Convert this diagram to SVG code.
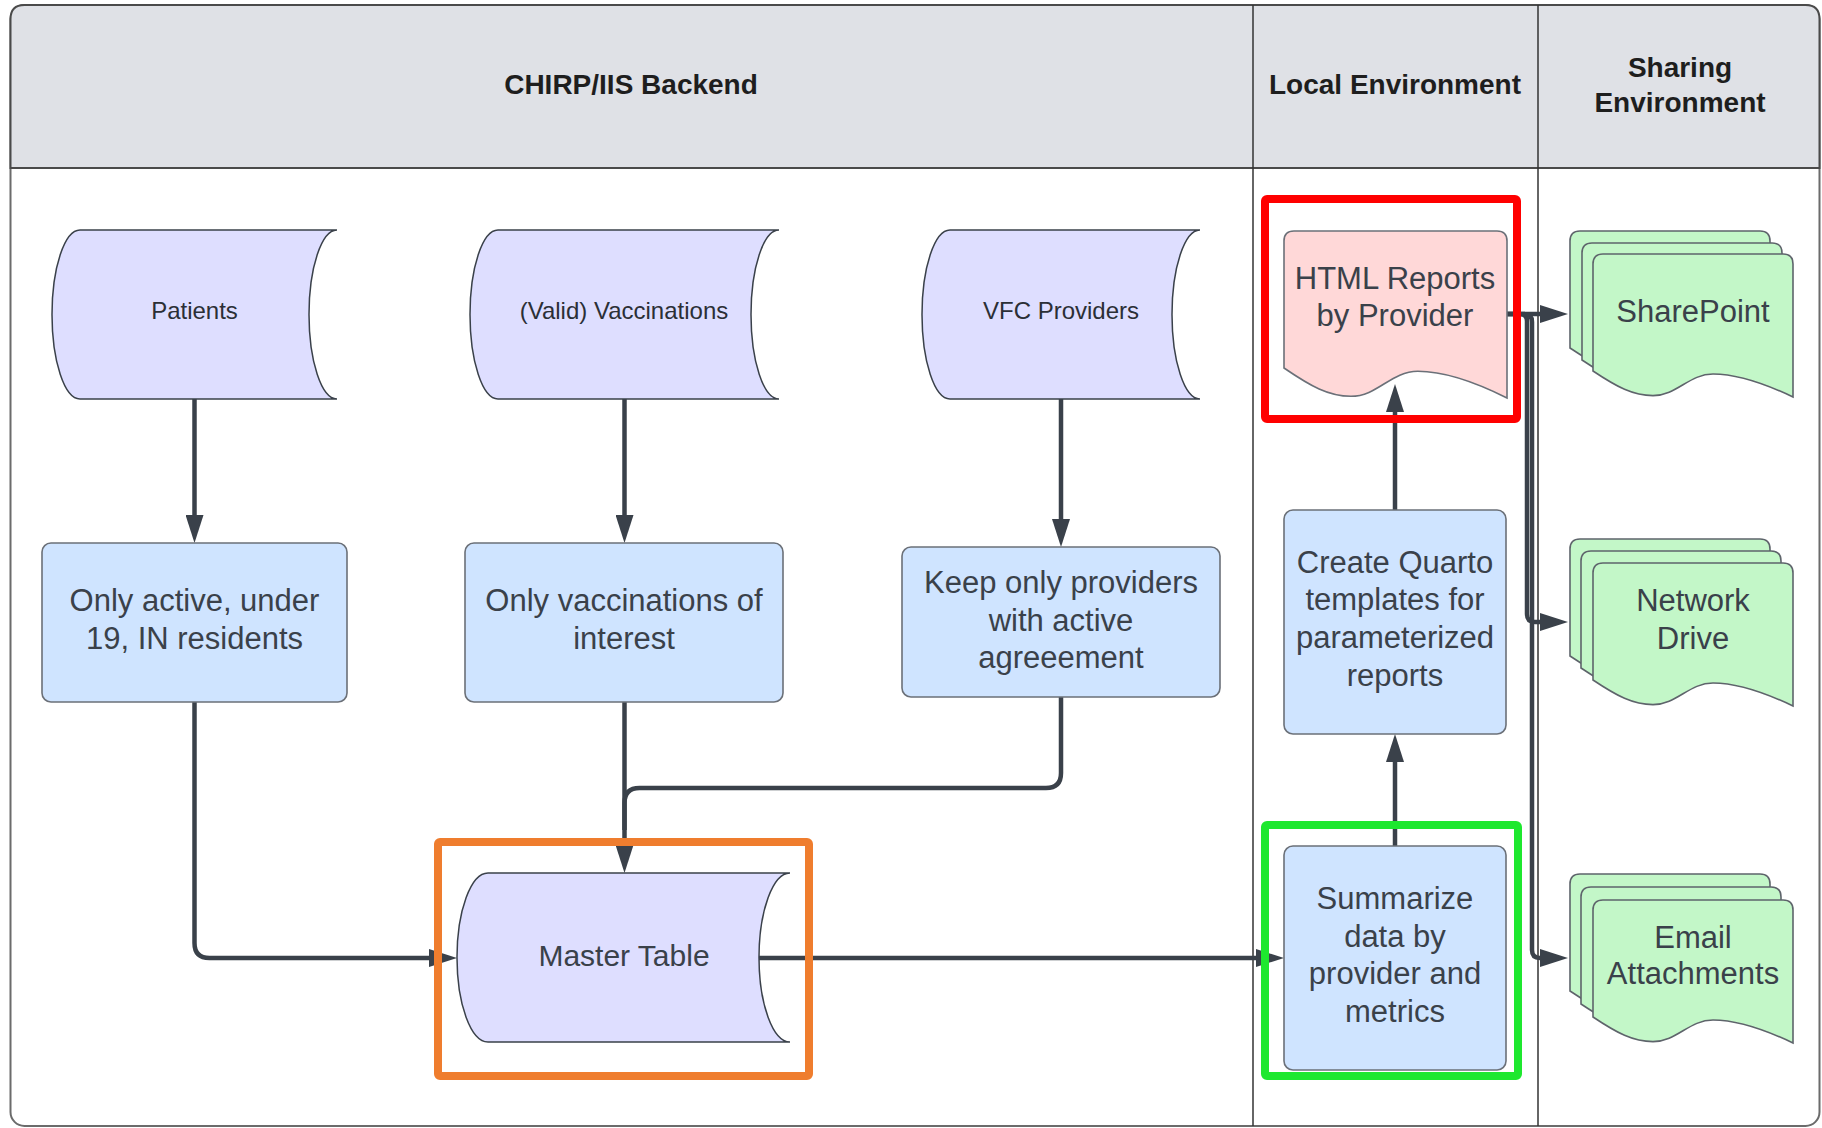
<svg xmlns="http://www.w3.org/2000/svg" xmlns:xlink="http://www.w3.org/1999/xlink" width="1822" height="1128" viewBox="0 0 1822 1128">
  <style>
    .hdr{font-family:"Liberation Sans",Arial,sans-serif;font-weight:bold;font-size:28px;fill:#1e1e1e;text-anchor:middle}
    .lbl{font-family:"Liberation Sans",Arial,sans-serif;font-size:31px;fill:#3a414a;text-anchor:middle}
    .ds{font-family:"Liberation Sans",Arial,sans-serif;font-size:24px;fill:#2b2f36;text-anchor:middle}
    .store{fill:#dedeff;stroke:#3a414a;stroke-width:1.5}
    .proc{fill:#cfe4ff;stroke:#6b7078;stroke-width:1.6}
    .gdoc{fill:#c3f7c8;stroke:#5e646b;stroke-width:1.6}
    .conn{fill:none;stroke:#3a414a;stroke-width:4.5}
    .hl{fill:none;stroke-width:8}
  </style>
  <defs>
    <marker id="ah" viewBox="0 0 28 18" refX="14" refY="9" markerWidth="28" markerHeight="18" markerUnits="userSpaceOnUse" orient="auto">
      <path d="M0,0 L28,9 L0,18 Z" fill="#3a414a"/>
    </marker>
    <path id="doc" d="M0,10 Q0,0 10,0 H190 Q200,0 200,10 V143 C170,128.7 144,120 120,120 C96,120 84,141.6 60,141.6 C40,141.6 24,133 0,117 Z"/>
  </defs>

  <!-- frame and lanes -->
  <g id="frame">
    <rect x="10.5" y="5" width="1809" height="1121" rx="14" fill="#ffffff" stroke="#6b6b6b" stroke-width="2"/>
    <path d="M10.5,168 V19 Q10.5,5 24.5,5 H1805.5 Q1819.5,5 1819.5,19 V168 Z" fill="#dfe1e6" stroke="#4a4a4a" stroke-width="2"/>
    <line x1="1253" y1="5" x2="1253" y2="1126" stroke="#333" stroke-width="1.5"/>
    <line x1="1538" y1="5" x2="1538" y2="1126" stroke="#333" stroke-width="1.5"/>
    <text class="hdr" x="631" y="94">CHIRP/IIS Backend</text>
    <text class="hdr" x="1395" y="94">Local Environment</text>
    <text class="hdr" x="1680" y="77">Sharing</text>
    <text class="hdr" x="1680" y="112">Environment</text>
  </g>

  <!-- connectors -->
  <g id="connectors">
    <path class="conn" d="M194.5,399 V529" marker-end="url(#ah)"/>
    <path class="conn" d="M624.5,399 V529" marker-end="url(#ah)"/>
    <path class="conn" d="M1061,399 V533" marker-end="url(#ah)"/>
    <path class="conn" d="M194.5,702 V943 Q194.5,958 209.5,958 H443" marker-end="url(#ah)"/>
    <path class="conn" d="M624.5,702 V859" marker-end="url(#ah)"/>
    <path class="conn" d="M1061,697 V773 Q1061,788 1046,788 H639.5 Q624.5,788 624.5,803 V830"/>
    <path class="conn" d="M759,958 H1270" marker-end="url(#ah)"/>
    <path class="conn" d="M1395,846 V748" marker-end="url(#ah)"/>
    <path class="conn" d="M1395,510 V398" marker-end="url(#ah)"/>
    <path class="conn" d="M1507,314 H1554" marker-end="url(#ah)"/>
    <path class="conn" d="M1507,314 H1520 Q1527,314 1527,321 V614 Q1527,622 1535,622 H1554" marker-end="url(#ah)"/>
    <path class="conn" d="M1507,314 H1524 Q1532,314 1532,322 V950 Q1532,958 1540,958 H1554" marker-end="url(#ah)"/>
  </g>

  <!-- data stores -->
  <g id="patients">
    <path class="store" d="M80,230 H337 A28,84.5 0 0 0 337,399 H80 A28,84.5 0 0 1 80,230 Z"/>
    <text class="ds" x="194.5" y="318.5">Patients</text>
  </g>
  <g id="vaccinations">
    <path class="store" d="M498,230 H779 A28,84.5 0 0 0 779,399 H498 A28,84.5 0 0 1 498,230 Z"/>
    <text class="ds" x="624" y="318.5">(Valid) Vaccinations</text>
  </g>
  <g id="vfc-providers">
    <path class="store" d="M950,230 H1200 A28,84.5 0 0 0 1200,399 H950 A28,84.5 0 0 1 950,230 Z"/>
    <text class="ds" x="1061" y="318.5">VFC Providers</text>
  </g>
  <g id="master-table">
    <path class="store" d="M488,873 H790 A31,84.5 0 0 0 790,1042 H488 A31,84.5 0 0 1 488,873 Z"/>
    <text class="lbl" x="624" y="966" style="font-size:30px">Master Table</text>
  </g>

  <!-- process boxes -->
  <g id="filter-patients">
    <rect class="proc" x="42" y="543" width="305" height="159" rx="9"/>
    <text class="lbl" x="194.5" y="611">Only active, under</text>
    <text class="lbl" x="194.5" y="649">19, IN residents</text>
  </g>
  <g id="filter-vaccinations">
    <rect class="proc" x="465" y="543" width="318" height="159" rx="9"/>
    <text class="lbl" x="624" y="611">Only vaccinations of</text>
    <text class="lbl" x="624" y="649">interest</text>
  </g>
  <g id="filter-providers">
    <rect class="proc" x="902" y="547" width="318" height="150" rx="9"/>
    <text class="lbl" x="1061" y="593">Keep only providers</text>
    <text class="lbl" x="1061" y="631">with active</text>
    <text class="lbl" x="1061" y="668">agreeement</text>
  </g>
  <g id="create-quarto">
    <rect class="proc" x="1284" y="510" width="222" height="224" rx="9"/>
    <text class="lbl" x="1395" y="573">Create Quarto</text>
    <text class="lbl" x="1395" y="610">templates for</text>
    <text class="lbl" x="1395" y="648">parameterized</text>
    <text class="lbl" x="1395" y="686">reports</text>
  </g>
  <g id="summarize">
    <rect class="proc" x="1284" y="846" width="222" height="224" rx="9"/>
    <text class="lbl" x="1395" y="909">Summarize</text>
    <text class="lbl" x="1395" y="947">data by</text>
    <text class="lbl" x="1395" y="984">provider and</text>
    <text class="lbl" x="1395" y="1022">metrics</text>
  </g>

  <!-- HTML report document -->
  <g id="html-reports">
    <path d="M1284,241 Q1284,231 1294,231 H1497 Q1507,231 1507,241 V398 C1473.6,381.3 1444.6,371.3 1417.8,371.3 C1391,371.3 1377.7,396.3 1350.9,396.3 C1328.6,396.3 1310.8,386.3 1284,368 Z" fill="#ffd8d8" stroke="#6b7078" stroke-width="1.6"/>
    <text class="lbl" x="1395" y="289">HTML Reports</text>
    <text class="lbl" x="1395" y="326">by Provider</text>
  </g>

  <!-- sharing documents -->
  <g id="sharepoint">
    <use xlink:href="#doc" href="#doc" class="gdoc" x="1570" y="231"/>
    <use xlink:href="#doc" href="#doc" class="gdoc" x="1582" y="243"/>
    <use xlink:href="#doc" href="#doc" class="gdoc" x="1593" y="254"/>
    <text class="lbl" x="1693" y="322">SharePoint</text>
  </g>
  <g id="network-drive">
    <use xlink:href="#doc" href="#doc" class="gdoc" x="1570" y="539"/>
    <use xlink:href="#doc" href="#doc" class="gdoc" x="1581" y="551"/>
    <use xlink:href="#doc" href="#doc" class="gdoc" x="1593" y="563"/>
    <text class="lbl" x="1693" y="611">Network</text>
    <text class="lbl" x="1693" y="649">Drive</text>
  </g>
  <g id="email-attachments">
    <use xlink:href="#doc" href="#doc" class="gdoc" x="1570" y="874"/>
    <use xlink:href="#doc" href="#doc" class="gdoc" x="1581" y="887"/>
    <use xlink:href="#doc" href="#doc" class="gdoc" x="1593" y="900"/>
    <text class="lbl" x="1693" y="948">Email</text>
    <text class="lbl" x="1693" y="984">Attachments</text>
  </g>

  <!-- highlight boxes -->
  <g id="highlights">
    <rect class="hl" x="438" y="842" width="371" height="234" rx="2" stroke="#ef7d2e"/>
    <rect class="hl" x="1265" y="825" width="253" height="251" rx="2" stroke="#1ee82f"/>
    <rect class="hl" x="1265" y="199" width="252" height="220" rx="2" stroke="#ff0000"/>
  </g>
</svg>
